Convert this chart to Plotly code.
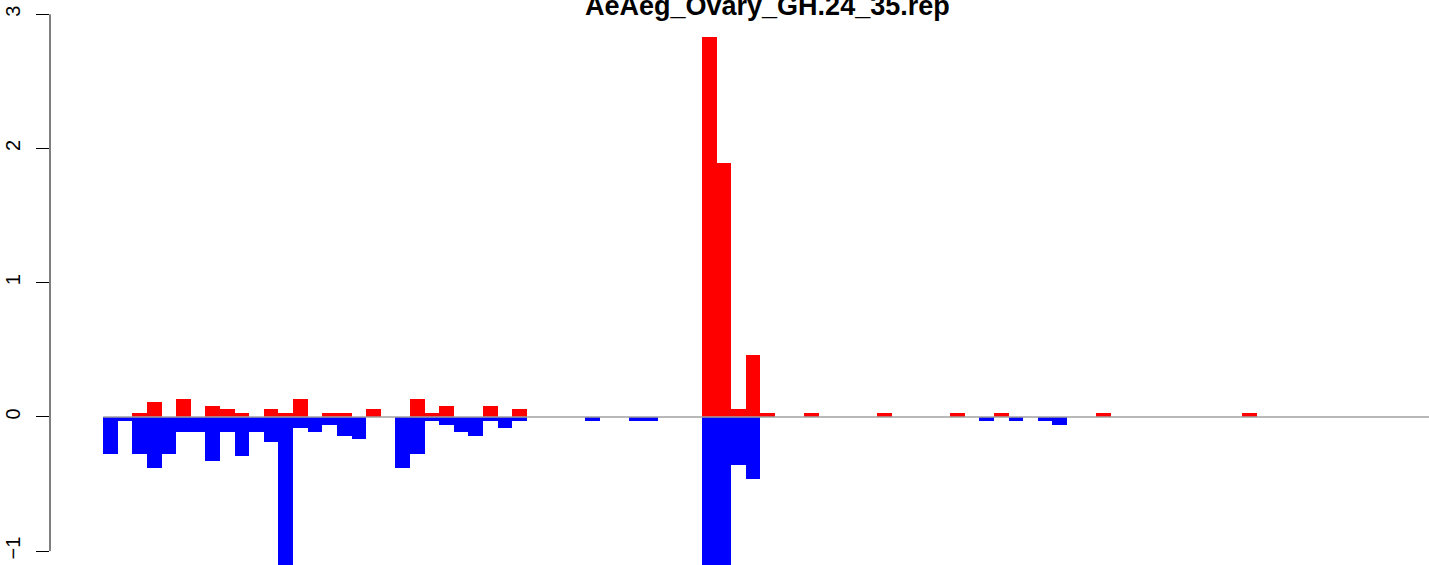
import plotly.graph_objects as go

title_text = "AeAeg_Ovary_GH.24_35.rep"

# bin index (0..90)
bins = list(range(91))

# positive (red) values per bin
pos_vals = [0.0, 0.0, 0.027, 0.11, 0.0, 0.134, 0.0, 0.082, 0.057, 0.027,
            0.0, 0.057, 0.027, 0.134, 0.0, 0.027, 0.027, 0.0, 0.057, 0.0,
            0.0, 0.134, 0.027, 0.082, 0.0, 0.0, 0.082, 0.0, 0.057, 0.0,
            0.0, 0.0, 0.0, 0.0, 0.0, 0.0, 0.0, 0.0, 0.0, 0.0,
            0.0, 2.83, 1.89, 0.057, 0.46, 0.027, 0.0, 0.0, 0.027, 0.0,
            0.0, 0.0, 0.0, 0.027, 0.0, 0.0, 0.0, 0.0, 0.027, 0.0,
            0.0, 0.027, 0.0, 0.0, 0.0, 0.0, 0.0, 0.0, 0.027, 0.0,
            0.0, 0.0, 0.0, 0.0, 0.0, 0.0, 0.0, 0.0, 0.027, 0.0,
            0.0, 0.0, 0.0, 0.0, 0.0, 0.0, 0.0, 0.0, 0.0, 0.0, 0.0]

# negative (blue) values per bin
neg_vals = [-0.28, -0.03, -0.28, -0.38, -0.28, -0.11, -0.11, -0.325, -0.11, -0.295,
            -0.11, -0.19, -1.15, -0.082, -0.11, -0.057, -0.14, -0.164, 0.0, 0.0,
            -0.38, -0.28, -0.03, -0.06, -0.11, -0.14, -0.03, -0.082, -0.03, 0.0,
            0.0, 0.0, 0.0, -0.03, 0.0, 0.0, -0.03, -0.03, 0.0, 0.0,
            0.0, -1.15, -1.15, -0.36, -0.46, 0.0, 0.0, 0.0, 0.0, 0.0,
            0.0, 0.0, 0.0, 0.0, 0.0, 0.0, 0.0, 0.0, 0.0, 0.0,
            -0.03, 0.0, -0.03, 0.0, -0.03, -0.06, 0.0, 0.0, 0.0, 0.0,
            0.0, 0.0, 0.0, 0.0, 0.0, 0.0, 0.0, 0.0, 0.0, 0.0,
            0.0, 0.0, 0.0, 0.0, 0.0, 0.0, 0.0, 0.0, 0.0, 0.0, 0.0]

y_ticks = [-1, 0, 1, 2, 3]

centers = [b + 0.5 for b in bins]
FONT = "Liberation Sans, Arial, Helvetica, sans-serif"

fig = go.Figure()
fig.add_trace(go.Bar(x=centers, y=pos_vals, width=1.0, marker=dict(color="#FF0000", line=dict(width=0)),
                     showlegend=False))
fig.add_trace(go.Bar(x=centers, y=neg_vals, width=1.0, marker=dict(color="#0000FF", line=dict(width=0)),
                     showlegend=False))
# zero line on top of bars
fig.add_trace(go.Scatter(x=[0, 95], y=[0, 0], mode="lines", line=dict(color="#A0A0A0", width=1.5),
                         showlegend=False, hoverinfo="skip"))

fig.update_layout(
    width=1429, height=565,
    margin=dict(l=50, r=0, t=0, b=0, autoexpand=False),
    paper_bgcolor="white", plot_bgcolor="white",
    barmode="overlay", bargap=0,
    font=dict(family=FONT, color="black"),
    xaxis=dict(range=[-3.65, 90.8], showgrid=False, zeroline=False, showticklabels=False,
               ticks="", showline=False, fixedrange=True, automargin=False),
    yaxis=dict(range=[-1.1036, 3.1066], showgrid=False, zeroline=False, showline=False,
               automargin=False,
               tickvals=y_ticks, ticktext=[("\u22121" if v < 0 else str(v)) for v in y_ticks],
               ticks="outside", ticklen=13, tickwidth=1, tickcolor="black",
               tickangle=-90, tickfont=dict(size=20, family=FONT, color="black"),
               ticklabelstandoff=8),
    shapes=[dict(type="line", xref="paper", yref="y", x0=0, x1=0, y0=-1, y1=3,
                 line=dict(color="black", width=1))],
    annotations=[dict(text="<b>" + title_text + "</b>", xref="paper", yref="paper",
                      x=(767.5 - 50) / 1379, y=1 - 6.3 / 565, xanchor="center", yanchor="middle",
                      showarrow=False, font=dict(size=27, family=FONT, color="black"))],
)

fig.write_html("out.html", config={"displayModeBar": False},
               post_script="document.body.style.margin='0';document.body.style.overflow='hidden';")
